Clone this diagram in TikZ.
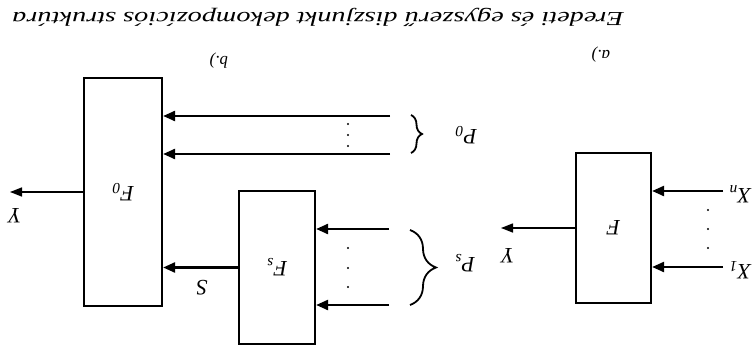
\documentclass[tikz,border=0pt]{standalone}
\usepackage{fontspec}
\setmainfont{Liberation Serif}
\usetikzlibrary{arrows.meta,decorations.pathreplacing}
\newcommand\vv[2]{\textit{#1}\textsubscript{\textit{#2}}}
\begin{document}
\begin{tikzpicture}[x=1pt,y=1pt,
  blk/.style={draw,line width=2.2pt,inner sep=0pt,minimum width=#1},
  thk/.style={line width=2.4pt,-{Triangle[length=12pt,width=10pt]}},
  thn/.style={line width=1.4pt,-{Triangle[length=12pt,width=9pt]}},
  lab/.style={inner sep=0pt,font=\fontsize{22}{26}\selectfont\itshape,rotate=180},
  captext/.style={inner sep=0pt,font=\fontsize{17}{20}\selectfont\itshape,rotate=180},
  brc/.style={decorate,line width=1.8pt,decoration={brace,amplitude=#1}}]
\useasboundingbox (0,0) rectangle (753,-353);
% title
\node[rotate=180,anchor=base west,inner sep=0pt] (title) at (624,-13)
  {\scalebox{1.49}[1.05]{\fontsize{19}{22}\selectfont\itshape Eredeti és egyszerű diszjunkt dekompozíciós struktúra}};
\node[captext] (la) at (601,-55) {a.)};
\node[captext] (lb) at (219,-61) {b.)};
% boxes
\node[blk=75pt,minimum height=150pt] (F) at (613.5,-228) {\rotatebox{180}{\fontsize{22}{26}\selectfont\itshape F}};
\node[blk=76pt,minimum height=153pt] (Fs) at (277,-267.5) {\rotatebox{180}{\fontsize{22}{26}\selectfont\vv{F}{s}}};
\node[blk=78pt,minimum height=228pt] (F0) at (123,-192) {\rotatebox{180}{\fontsize{22}{26}\selectfont\vv{F}{0}}};
% (a) inputs
\coordinate (in1) at (723,-191);
\coordinate (in2) at (723,-267);
\draw[thk] (in1) -- (in1 -| F.east);
\draw[thk] (in2) -- (in2 -| F.east);
\node[lab] (Xn) at (740,-194) {\vv{X}{n}};
\node[lab] (X1) at (740,-270) {\vv{X}{1}};
\foreach \y in {-210,-229,-248} \fill (708,\y) circle[radius=1.1pt];
% (a) output
\coordinate (yF) at (501,-228);
\draw[thn] (F.west) -- (yF);
\node[lab] (YF) at (508,-256) {Y};
% (b) Fs inputs
\coordinate (ps1) at (389,-229);
\coordinate (ps2) at (389,-305);
\draw[thk] (ps1) -- (ps1 -| Fs.east);
\draw[thk] (ps2) -- (ps2 -| Fs.east);
\foreach \y in {-248,-268,-287} \fill (348,\y) circle[radius=1.1pt];
% Fs output
\draw[thk] (Fs.west) -- (Fs.west -| F0.east);
\node[lab] (S) at (202,-288) {S};
% F0 inputs
\coordinate (p01) at (390,-116);
\coordinate (p02) at (390,-154);
\draw[thk] (p01) -- (p01 -| F0.east);
\draw[thk] (p02) -- (p02 -| F0.east);
\foreach \y in {-124,-135,-146} \fill (348,\y) circle[radius=1.1pt];
% F0 output
\coordinate (y0) at (10,-192);
\draw[thn] (F0.west) -- (y0);
\node[lab] (Y0) at (15,-216) {Y};
% braces
\draw[brc=11pt] (411,-115) -- (411,-153);
\node[lab] (P0) at (466,-135) {\vv{P}{0}};
\draw[brc=26pt] (410,-230) -- (410,-305);
\node[lab] (Ps) at (465,-263) {\vv{P}{s}};
\end{tikzpicture}
\end{document}
